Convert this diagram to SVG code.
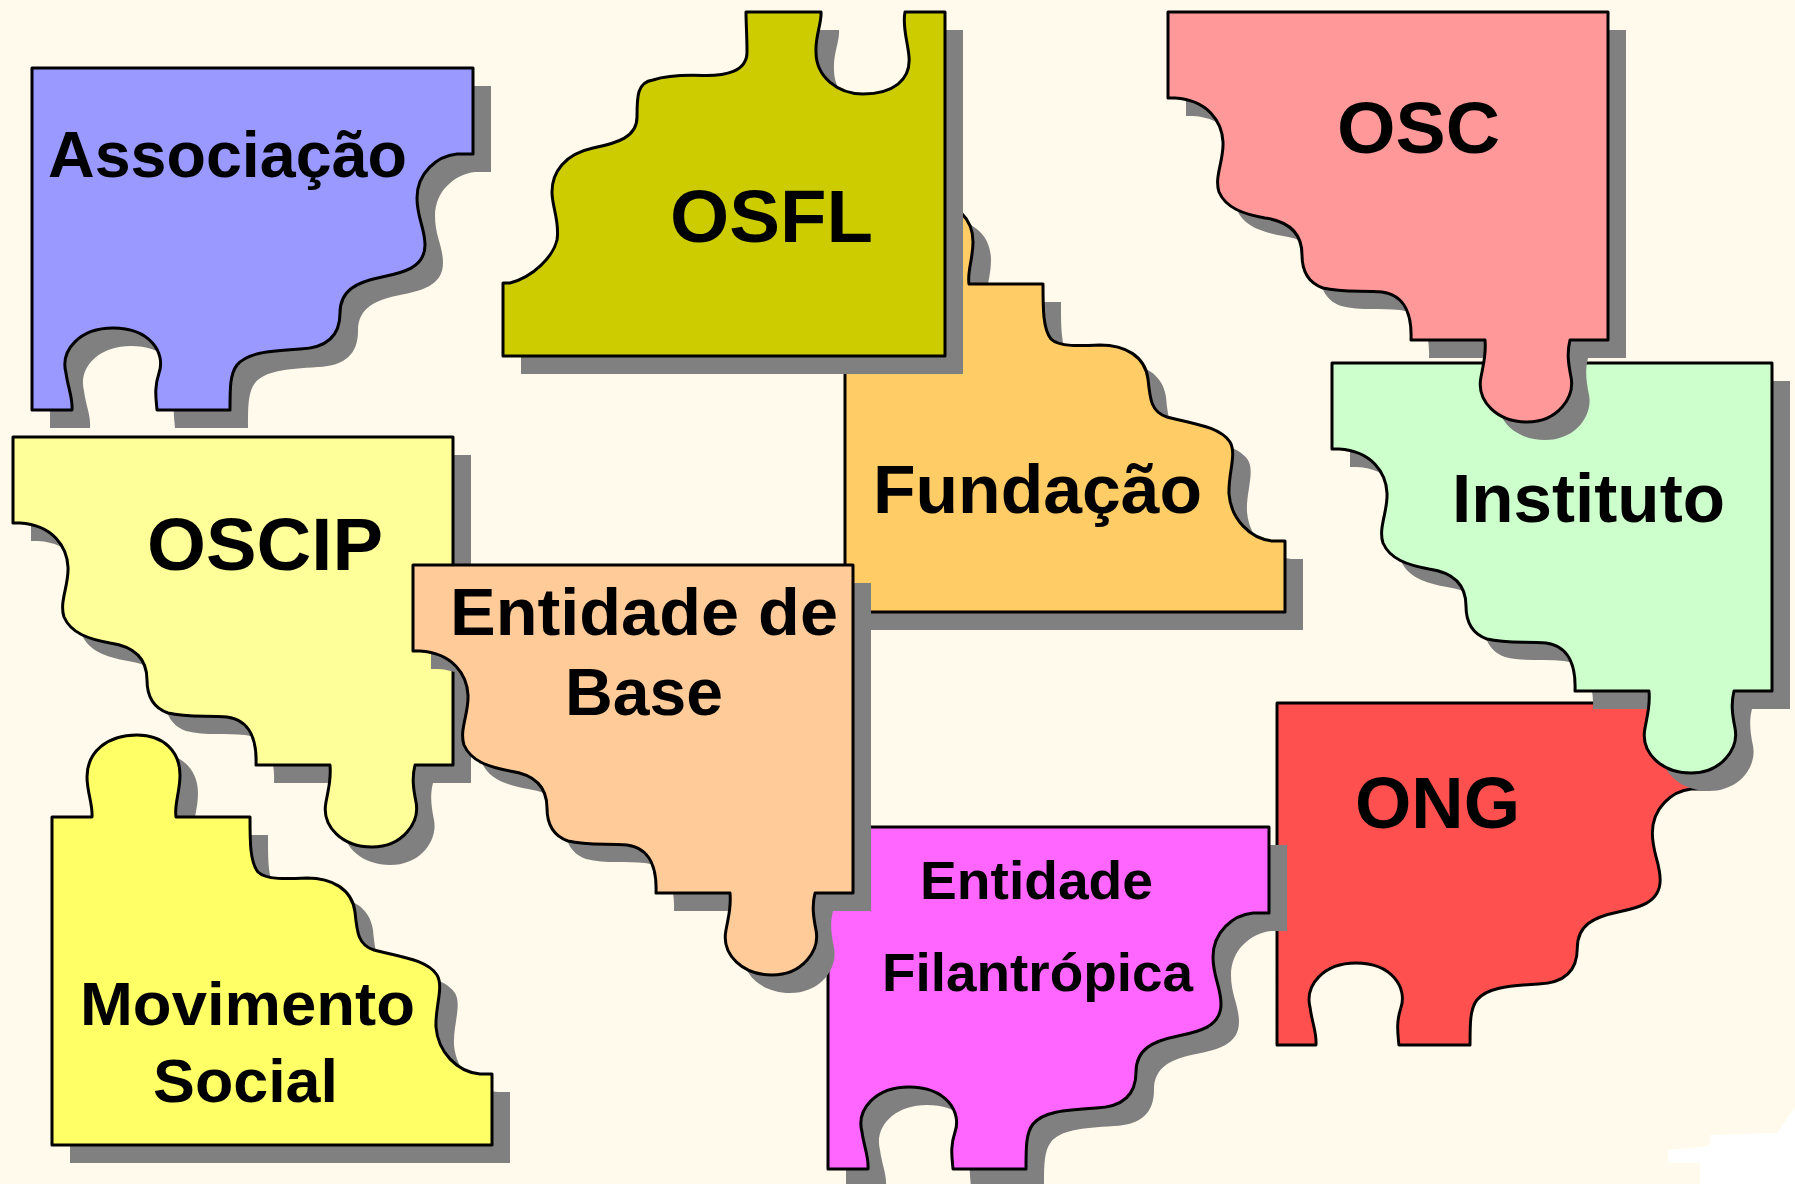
<svg xmlns="http://www.w3.org/2000/svg" xmlns:xlink="http://www.w3.org/1999/xlink" width="1795" height="1184" viewBox="0 0 1795 1184">
<style>
.shadow{fill:#808080;stroke:none}
.piece{stroke:#000;stroke-width:3;stroke-linejoin:round}
.lbl{font-family:"Liberation Sans",Arial,sans-serif;font-weight:bold;fill:#000;text-anchor:middle}
</style>
<defs>
<path id="pA" d="M0,0 H440 V328 H402 C399,340 400,350 403,365 C407,385 390,410 359,410 C330,410 308,390 313,365 C316,350 318,340 317,328 H243 C244,305 238,283 214,280 C195,278 175,281 155,276 C138,270 134,255 134,243 C134,225 125,210 97,206 C75,202 58,196 51,180 C46,165 56,148 55,130 C54,110 40,88 7,86 H0 Z"/>
<path id="pB" d="M0,0 H441 V86 H425 C405,88 385,105 385,130 C385,150 393,160 393,177 C393,200 370,205 350,209 C325,214 308,222 308,245 C308,268 295,280 268,281 C235,283 215,285 205,297 C198,306 198,320 198,342 H125 C124,330 122,320 127,305 C134,285 118,260 81,260 C48,260 28,282 34,305 C36,320 41,330 40,342 H0 Z"/>
<path id="pC" d="M0,0 H40 C41,-12 35,-25 35,-40 C35,-65 55,-82 85,-82 C112,-82 128,-65 128,-42 C128,-25 122,-12 124,0 H198 C198,25 198,45 206,55 C214,63 235,62 255,61 C280,61 300,72 303,95 C305,115 306,128 322,133 C350,140 375,143 385,158 C392,170 383,190 384,210 C386,235 405,255 428,257 H440 V328 H0 Z"/>
<path id="pD" d="M0,344 V271 H7 C30,265 50,245 54,228 C57,210 49,195 49,180 C49,160 62,142 90,136 C115,131 134,125 134,105 C134,85 134,70 150,68 C165,63 185,63 200,63.5 C222,64 244,60 244,40 C244,25 243,10 243,0 H318 C319,10 312,25 313,40 C313,65 335,82 360,82 C390,82 408,68 406,45 C405,30 399,15 402,0 H442 V344 Z"/>
</defs>
<rect width="1795" height="1184" fill="#FFFAEB"/>
<polygon points="1795,1107 1777,1133 1710,1135 1710,1145 1700,1147 1668,1150 1668,1163 1700,1163 1700,1184 1795,1184" fill="#FFFFFF"/>
<g id="connectors"/>
<g id="associacao">
<g transform="translate(32,68)"><use href="#pB" class="shadow" x="18" y="18"/><use href="#pB" class="piece" fill="#9999FF"/></g>
<text class="lbl" x="227.5" y="177" font-size="64" textLength="359" lengthAdjust="spacingAndGlyphs">Associação</text>
</g>
<g id="fundacao">
<g transform="translate(845,284)"><use href="#pC" class="shadow" x="18" y="18"/><use href="#pC" class="piece" fill="#FFCC66"/></g>
<text class="lbl" x="1037.5" y="513" font-size="69" textLength="329" lengthAdjust="spacingAndGlyphs">Fundação</text>
</g>
<g id="osfl">
<g transform="translate(503,12)"><use href="#pD" class="shadow" x="18" y="18"/><use href="#pD" class="piece" fill="#CCCC00"/></g>
<text class="lbl" x="771.5" y="242" font-size="74" textLength="203" lengthAdjust="spacingAndGlyphs">OSFL</text>
</g>
<g id="ong">
<g transform="translate(1277,703) scale(0.975,1)"><use href="#pB" class="piece" fill="#FF5050"/></g>
<text class="lbl" x="1437.5" y="828" font-size="72" textLength="165" lengthAdjust="spacingAndGlyphs">ONG</text>
</g>
<g id="instituto">
<g transform="translate(1332,363)"><use href="#pA" class="shadow" x="18" y="18"/><use href="#pA" class="piece" fill="#CCFFCC"/></g>
<text class="lbl" x="1588.5" y="522" font-size="68" textLength="273" lengthAdjust="spacingAndGlyphs">Instituto</text>
</g>
<g id="osc">
<g transform="translate(1168,12)"><use href="#pA" class="shadow" x="18" y="18"/><use href="#pA" class="piece" fill="#FF9999"/></g>
<text class="lbl" x="1418.5" y="153" font-size="73" textLength="163" lengthAdjust="spacingAndGlyphs">OSC</text>
</g>
<g id="oscip">
<g transform="translate(13,437)"><use href="#pA" class="shadow" x="18" y="18"/><use href="#pA" class="piece" fill="#FFFF99"/></g>
<text class="lbl" x="265" y="570" font-size="74" textLength="236" lengthAdjust="spacingAndGlyphs">OSCIP</text>
</g>
<g id="entidade-filantropica">
<g transform="translate(828,827)"><use href="#pB" class="shadow" x="18" y="18"/><use href="#pB" class="piece" fill="#FF66FF"/></g>
<text class="lbl" x="1036.5" y="899" font-size="53" textLength="233" lengthAdjust="spacingAndGlyphs">Entidade</text>
<text class="lbl" x="1037.5" y="991" font-size="53" textLength="311" lengthAdjust="spacingAndGlyphs">Filantrópica</text>
</g>
<g id="entidade-de-base">
<g transform="translate(413,565)"><use href="#pA" class="shadow" x="18" y="18"/><use href="#pA" class="piece" fill="#FFCC99"/></g>
<text class="lbl" x="644" y="635" font-size="66" textLength="388" lengthAdjust="spacingAndGlyphs">Entidade de</text>
<text class="lbl" x="644" y="715" font-size="66" textLength="158" lengthAdjust="spacingAndGlyphs">Base</text>
</g>
<g id="movimento-social">
<g transform="translate(52,817)"><use href="#pC" class="shadow" x="18" y="18"/><use href="#pC" class="piece" fill="#FFFF66"/></g>
<text class="lbl" x="247.5" y="1025" font-size="61" textLength="335" lengthAdjust="spacingAndGlyphs">Movimento</text>
<text class="lbl" x="245.5" y="1102" font-size="61" textLength="185" lengthAdjust="spacingAndGlyphs">Social</text>
</g>
</svg>
